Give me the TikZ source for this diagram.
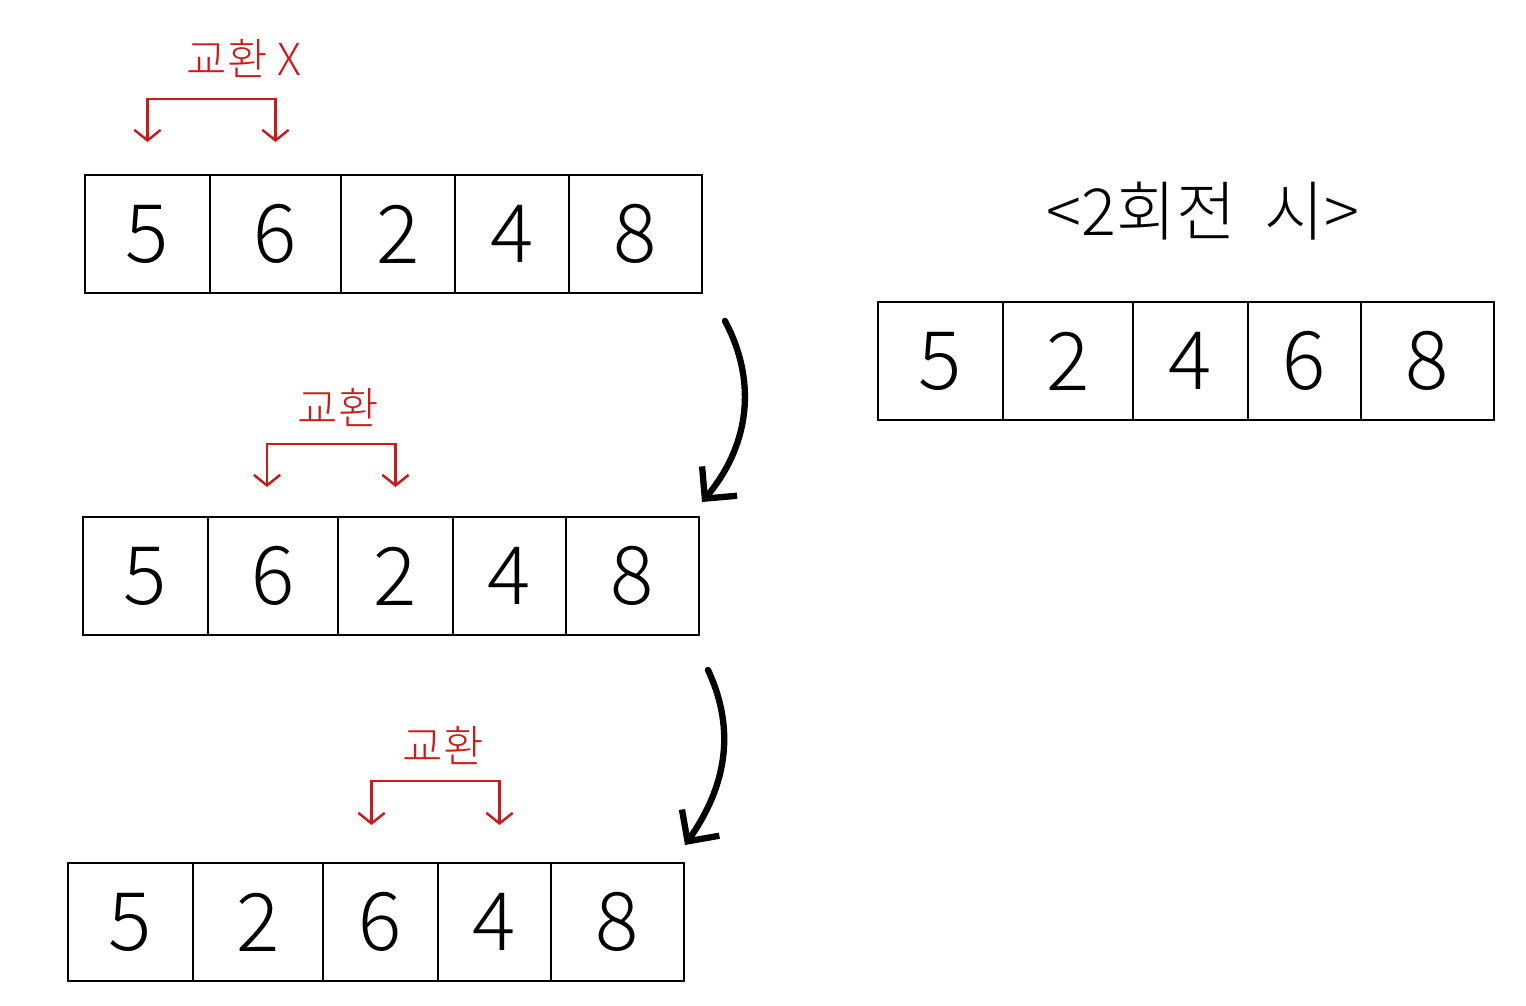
\documentclass[tikz,border=0pt]{standalone}
\usepackage{fontspec}
\setmainfont{Noto Sans CJK KR}[UprightFont=* Light]
\usetikzlibrary{arrows.meta, positioning}
\definecolor{swapred}{RGB}{200,28,28}

\tikzset{
  cell/.style={draw, line width=1.1pt, minimum height=2.36cm,
               inner sep=0pt, outer sep=0pt, anchor=north west,
               font=\fontsize{46}{46}\selectfont},
  swapline/.style={draw=swapred, line width=1.4pt,
                   {Straight Barb[length=6pt,width=15pt]}-{Straight Barb[length=6pt,width=15pt]}},
  swaplabel/.style={text=swapred, font=\fontsize{25}{25}\selectfont},
  passarrow/.style={line width=3.6pt, line cap=round,
                    -{Straight Barb[length=13pt,width=26pt]}}
}

\begin{document}
\begin{tikzpicture}[x=0.02cm, y=-0.02cm]
  \useasboundingbox (0,0) rectangle (1526,1006);

  % first pass
  \foreach \o/\w/\d [count=\i] in {0/125/5,125/131/6,256/114/2,370/114/4,484/133/8}
    \node[cell, minimum width=\w*0.02cm] (a\i) at (85+\o,175) {\d};
  \draw[swapline] ([yshift=0.66cm]a1.north) -- ++(0,-43) -| ([yshift=0.66cm]a2.north);
  \node[swaplabel] (lbla) at (244,58) {교환 X};

  % second pass
  \foreach \o/\w/\d [count=\i] in {0/125/5,125/130/6,255/115/2,370/113/4,483/133/8}
    \node[cell, minimum width=\w*0.02cm] (b\i) at (83+\o,517) {\d};
  \draw[swapline] ([shift={(-6,-30)}]b2.north) -- ++(0,-43) -| ([shift={(0,-30)}]b3.north);
  \node[swaplabel] (lblb) at (338,407) {교환};

  % third pass
  \foreach \o/\w/\d [count=\i] in {0/125/5,125/130/2,255/115/6,370/113/4,483/133/8}
    \node[cell, minimum width=\w*0.02cm] (c\i) at (68+\o,863) {\d};
  \draw[swapline] ([shift={(-9,-38)}]c3.north) -- ++(0,-44) -| ([shift={(5,-38)}]c4.north);
  \node[swaplabel] (lblc) at (443,745) {교환};

  % arrows between passes
  \draw[passarrow] ([shift={(23,28)}]a5.south east) to[out=-62,in=50] ([shift={(3,-15)}]b5.north east);
  \draw[passarrow] ([shift={(9,35)}]b5.south east) to[out=-65,in=55] ([shift={(1,-18)}]c5.north east);

  % result after round 2
  \node[font=\fontsize{37}{37}\selectfont] (title) at (1203,211) {<2회전~~시>};
  \foreach \o/\w/\d [count=\i] in {0/125/5,125/130/2,255/115/4,370/113/6,483/133/8}
    \node[cell, minimum width=\w*0.02cm] (r\i) at (878+\o,302) {\d};
\end{tikzpicture}
\end{document}
